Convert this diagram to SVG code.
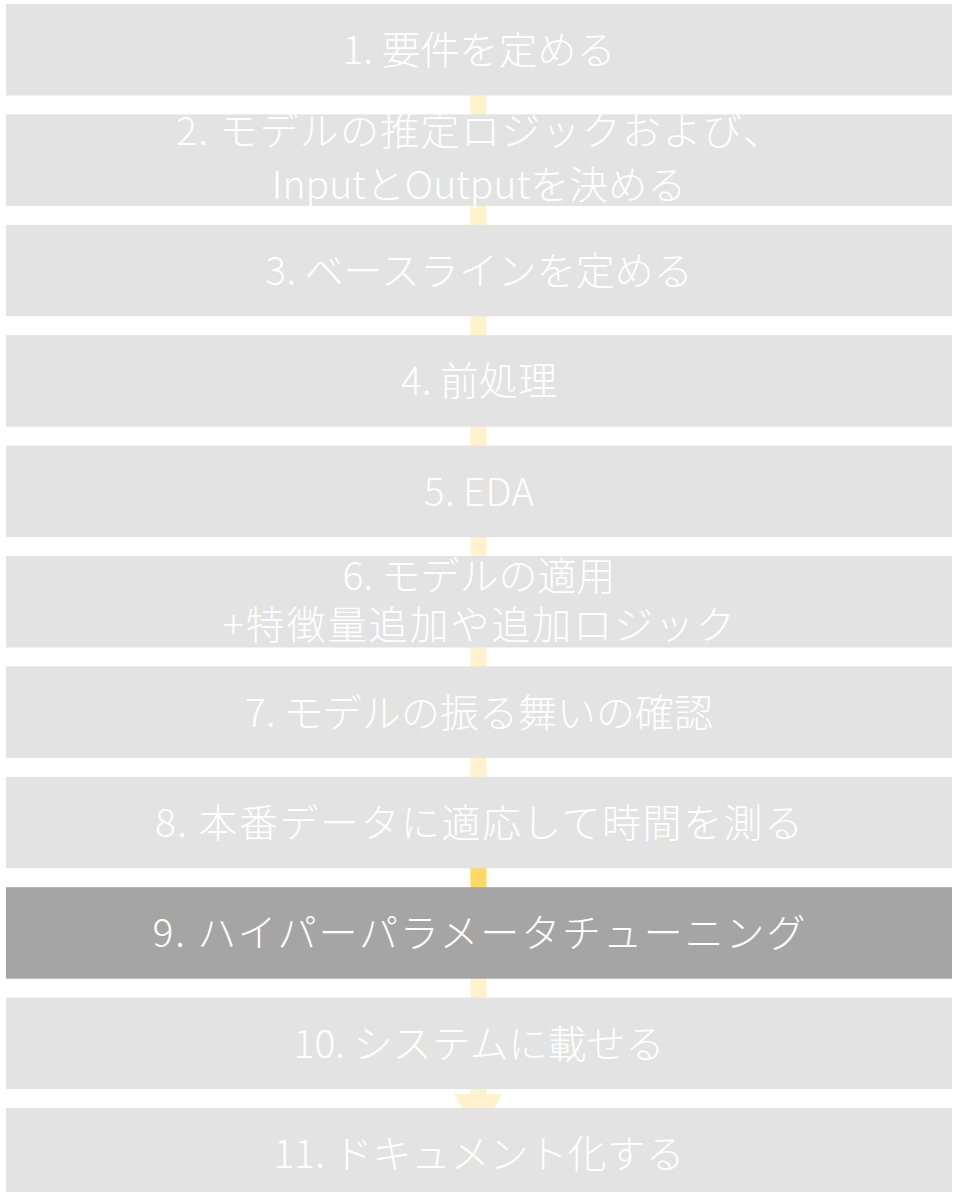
<svg xmlns="http://www.w3.org/2000/svg" width="964" height="1192" viewBox="0 0 964 1192">
<style>
.box{fill:#E3E3E3}
.hl{fill:#A5A5A5}
.t{font-family:"Noto Sans CJK JP Light","Noto Sans CJK JP","Noto Sans",sans-serif;font-weight:300;font-size:39px;fill:#FFFFFF;text-anchor:middle}
.arrow{fill:#FFF2CC}
.arrow-hl{fill:#FFD966}
</style>
<rect width="964" height="1192" fill="#FFFFFF"/>
<g id="connectors">
<rect class="arrow" x="470.5" y="50" width="16" height="1046"/>
<rect class="arrow-hl" x="470.5" y="860" width="16" height="30"/>
<polygon class="arrow" points="454,1094 502,1094 478.5,1136"/>
</g>
<g id="n1"><rect class="box" x="6" y="4" width="946" height="91.5"/><text class="t" x="479" y="64">1. 要件を定める</text></g>
<g id="n2"><rect class="box" x="6" y="114.4" width="946" height="91.5"/><text class="t" x="479" y="145" textLength="606" lengthAdjust="spacing">2. モデルの推定ロジックおよび、</text><text class="t" x="479" y="199">InputとOutputを決める</text></g>
<g id="n3"><rect class="box" x="6" y="224.8" width="946" height="91.5"/><text class="t" x="479" y="285">3. ベースラインを定める</text></g>
<g id="n4"><rect class="box" x="6" y="335.2" width="946" height="91.5"/><text class="t" x="479" y="395">4. 前処理</text></g>
<g id="n5"><rect class="box" x="6" y="445.6" width="946" height="91.5"/><text class="t" x="479" y="506">5. EDA</text></g>
<g id="n6"><rect class="box" x="6" y="556" width="946" height="91.5"/><text class="t" x="479" y="590">6. モデルの適用</text><text class="t" x="479" y="639" textLength="512" lengthAdjust="spacing">+特徴量追加や追加ロジック</text></g>
<g id="n7"><rect class="box" x="6" y="666.4" width="946" height="91.5"/><text class="t" x="479" y="727">7. モデルの振る舞いの確認</text></g>
<g id="n8"><rect class="box" x="6" y="776.8" width="946" height="91.5"/><text class="t" x="479" y="837" textLength="648" lengthAdjust="spacing">8. 本番データに適応して時間を測る</text></g>
<g id="n9"><rect class="hl" x="6" y="887.2" width="946" height="91.5"/><text class="t" x="479" y="947" textLength="653" lengthAdjust="spacing">9. ハイパーパラメータチューニング</text></g>
<g id="n10"><rect class="box" x="6" y="997.6" width="946" height="91.5"/><text class="t" x="479" y="1058">10. システムに載せる</text></g>
<g id="n11"><rect class="box" x="6" y="1108" width="946" height="91.5"/><text class="t" x="479" y="1168">11. ドキュメント化する</text></g>
</svg>
